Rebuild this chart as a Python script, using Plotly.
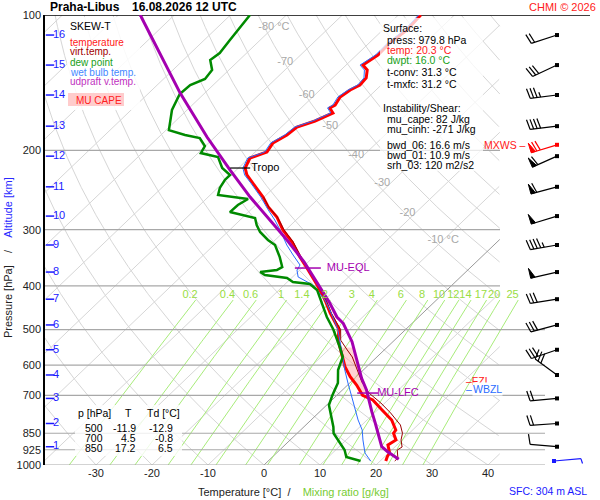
import numpy as np
import plotly.graph_objects as go

FONT = "Liberation Sans, Arial, sans-serif"

# ---------------- sounding (surface -> top) ----------------
temp_p = [979.8, 955.9, 940.6, 902.9, 879.9, 850.0, 836.0, 794.3, 754.4, 717.1, 700.0,
          664.0, 636.4, 604.6, 564.7, 527.5, 500.0, 460.0, 429.9, 398.1, 365.0, 345.1,
          319.5, 300.4, 281.1, 267.1, 253.8, 236.2, 226.7, 218.8, 207.9, 201.6, 192.5,
          184.8, 177.4, 172.0, 168.5, 165.1, 160.9, 158.5, 152.1, 146.8, 143.1, 138.0,
          132.5, 129.2, 122.7, 115.4, 108.0, 100.0]
temp_t = [21.0, 20.4, 20.2, 18.4, 18.9, 17.2, 17.0, 14.4, 10.8, 7.3, 4.6,
          1.6, -1.1, -3.9, -7.0, -10.1, -11.9, -16.5, -19.9, -24.1, -29.1, -32.4,
          -36.6, -40.5, -44.0, -47.4, -50.2, -54.6, -57.2, -58.8, -59.8, -57.9, -58.5,
          -57.5, -57.2, -55.1, -54.1, -53.4, -54.9, -54.5, -55.1, -54.6, -53.8, -54.0,
          -55.3, -57.0, -56.2, -56.3, -55.7, -56.0]

virt_p = [979.8, 964.8, 926.3, 912.0, 879.9, 850.0, 815.0, 766.3, 728.2, 691.8, 654.1,
          615.1, 575.4, 555.2, 528.0, 500.0, 460.0, 430.0, 398.0, 365.0, 345.0, 319.5,
          300.4, 281.1, 267.1, 253.8]
virt_t = [22.6, 22.6, 21.0, 21.3, 19.8, 18.8, 16.9, 12.9, 9.3, 5.3, 2.0,
          -1.1, -4.4, -6.6, -9.6, -11.6, -16.3, -19.7, -23.9, -28.9, -32.2, -36.4,
          -40.3, -43.9, -47.3, -50.1]

dwpt_p = [979.8, 959.8, 926.3, 889.0, 850.0, 823.4, 782.4, 735.7, 700.0, 657.5, 615.1,
          575.4, 546.8, 500.0, 469.0, 436.5, 408.3, 396.0, 392.0, 384.1, 378.3, 372.6,
          368.8, 363.1, 345.1, 324.4, 316.2, 303.5, 292.9, 282.6, 274.1, 264.4, 256.4,
          251.2, 242.3, 232.6, 226.7, 218.8, 206.8, 202.7, 195.5, 187.7, 184.8, 180.2,
          162.6, 149.8, 143.1, 138.7, 132.5, 125.9, 121.5, 113.7, 106.3, 100.0]
dwpt_t = [16.5, 13.2, 11.6, 9.2, 6.5, 5.3, 3.1, 0.4, -0.8, -2.1, -4.5,
          -6.1, -8.5, -12.9, -16.4, -19.9, -23.2, -25.6, -29.0, -30.8, -35.3, -36.7,
          -34.1, -33.7, -36.0, -39.1, -41.3, -44.2, -46.1, -47.7, -53.3, -53.2, -52.5,
          -58.6, -59.6, -60.2, -60.2, -62.9, -65.7, -69.5, -70.1, -72.5, -75.7, -79.5,
          -82.7, -84.3, -84.1, -82.6, -83.0, -85.2, -84.8, -85.4, -86.0, -86.5]

wetb_p = [979.8, 940.6, 879.9, 836.0, 794.3, 743.3, 706.3, 657.5, 615.1, 575.4, 500.0,
          459.3, 429.9, 398.0, 392.0, 382.1, 368.8, 359.4, 341.5, 324.4, 300.4, 285.5,
          270.9, 253.8, 236.2, 226.7, 218.8, 207.9, 201.6, 192.5, 184.8, 177.4, 172.0,
          168.5, 165.1, 160.9, 158.5, 152.1, 146.8, 143.1, 138.0, 132.5, 129.2, 122.7,
          115.4, 108.0, 100.0]
wetb_t = [18.3, 15.8, 13.0, 11.0, 8.4, 5.4, 3.0, -0.3, -3.3, -6.1, -12.1,
          -16.4, -19.9, -24.9, -26.5, -29.0, -30.5, -30.9, -34.0, -37.0, -41.0, -43.8,
          -46.9, -50.6, -55.0, -57.6, -59.2, -60.2, -58.3, -58.9, -57.9, -57.6, -55.5,
          -54.5, -53.8, -55.3, -54.9, -55.5, -55.0, -54.2, -54.4, -55.8, -57.5, -56.6,
          -56.7, -56.1, -56.4]

parcel_p = [971.4, 934.2, 910.5, 850.4, 807.9, 761.3, 717.1, 681.3, 641.7, 604.6, 564.7,
            532.1, 484.3, 469.0, 436.5, 402.3, 382.1, 354.0, 316.2, 289.9, 253.8, 221.1,
            186.7, 149.1, 100.0]
parcel_t = [23.0, 19.6, 17.6, 14.5, 12.1, 9.3, 6.6, 4.3, 1.25, -1.5, -4.6,
            -7.3, -12.3, -14.6, -18.5, -23.2, -26.3, -30.7, -37.9, -43.6, -52.5, -61.1,
            -71.4, -84.4, -106.1]

tropo_p = 218.8
eql_p = 365.0
lfc_p = 692.0
cape_top_p = 548.0

# altitude scale and winds (one barb per km)
alt_km = list(range(1, 17))
alt_p = [910.7, 808.6, 711.3, 630.9, 554.5, 488.4, 428.1, 372.6, 324.4, 279.8,
         240.9, 205.9, 176.6, 150.6, 129.2, 110.8]
wind_dir = [275, 266, 265, 306, 251, 255, 261, 257, 260, 253, 255, 246, 263, 263, 245, 252]
wind_spd = [10, 20, 20, 30, 30, 30, 30, 50, 45, 50, 60, 60, 40, 35, 30, 20]
mxws_p, mxws_dir, mxws_spd = 194.3, 253, 70
sfc_p, sfc_dir, sfc_spd = 979.8, 85, 3

p_ticks = [100, 200, 300, 400, 500, 600, 700, 850, 925, 1000]
t_ticks = [-30, -20, -10, 0, 10, 20, 30, 40]
mix_ratios = [0.2, 0.4, 0.6, 1, 1.4, 2, 3, 4, 6, 8, 10, 12, 14, 17, 20, 25]
iso_lab_t = [-80, -70, -60, -50, -40, -30, -20, -10]
iso_lab_p = [106.3, 127.2, 150.6, 176.6, 204.7, 236.9, 275.3, 316.2]

# ---------------- chart geometry ----------------
PX_DEG = 5.6      # px per deg C
PX_DEC = 450.0    # px per pressure decade
SKEW = 84.0       # isotherm shift (deg C) per decade
X_MIN = -39.107
X_MAX = X_MIN + 545 / PX_DEG
X_GRID_END = X_MIN + 455 / PX_DEG
X_LOW_END = X_MIN + 500 / PX_DEG
BARB_X = X_MIN + 512 / PX_DEG


def skew(t, p):
    return np.asarray(t, float) + SKEW * np.log10(1000.0 / np.asarray(p, float))


def px(x):
    return (x - 45) / 545.0


def py(y):
    return (465 - y) / 450.0


def clean(v):
    return [None if (v_ is None or not np.isfinite(v_)) else float(v_) for v_ in v]


fig = go.Figure()


def add_multi(xs_list, ys_list, color, width, dash=None):
    xs, ys = [], []
    for x, y in zip(xs_list, ys_list):
        xs += clean(x) + [None]
        ys += clean(y) + [None]
    fig.add_trace(go.Scatter(x=xs, y=ys, mode="lines", hoverinfo="skip",
                             line=dict(color=color, width=width, dash=dash)))


# background: isotherms and dry adiabats
pg = np.logspace(3, 2, 400)
iso_x, iso_y = [], []
for t in range(-120, 41, 10):
    if t == 0:
        continue
    x = skew(t, pg)
    x[x > X_GRID_END] = np.nan
    iso_x.append(x)
    iso_y.append(pg)
add_multi(iso_x, iso_y, "#d6d6d6", 1)

ad_x, ad_y = [], []
for th in range(-40, 261, 10):
    t = (th + 273.15) * (pg / 1000.0) ** 0.2857 - 273.15
    x = skew(t, pg)
    x[x > X_GRID_END] = np.nan
    ad_x.append(x)
    ad_y.append(pg)
add_multi(ad_x, ad_y, "#d6d6d6", 1)

x0 = skew(0, pg)
x0[x0 > X_GRID_END] = np.nan
add_multi([x0], [pg], "#808080", 0.8)


# mixing ratio lines
def td_from_w(w, p):
    e = w * p / (622.0 + w)
    a = np.log(e / 6.112)
    return 243.5 * a / (17.67 - a)


pm = np.logspace(3, np.log10(430), 80)
add_multi([skew(td_from_w(w, pm), pm) for w in mix_ratios], [pm] * len(mix_ratios), "#a8ec7a", 1)

# pressure lines
hl_x, hl_y = [], []
for p in p_ticks[1:]:
    hl_x.append([X_MIN, X_GRID_END if p < 450 else X_LOW_END])
    hl_y.append([p, p])
add_multi(hl_x, hl_y, "#a8a8a8", 1.2)
add_multi([[X_MIN, X_MAX]], [[100, 100]], "black", 1.5)

# CAPE area between parcel and environment
lp = np.linspace(np.log10(lfc_p), np.log10(cape_top_p), 30)
xpar = np.interp(-lp, -np.log10(parcel_p), skew(parcel_t, parcel_p))
xenv = np.interp(-lp, -np.log10(temp_p), skew(temp_t, temp_p))
fig.add_trace(go.Scatter(x=np.concatenate([xpar, xenv[::-1]]), y=np.concatenate([10 ** lp, 10 ** lp[::-1]]),
                         fill="toself", fillcolor="rgba(255,160,160,0.45)", mode="lines",
                         line=dict(width=0), hoverinfo="skip"))

# profiles
fig.add_trace(go.Scatter(x=skew(temp_t, temp_p), y=temp_p, mode="lines", line=dict(color="#ff0000", width=3)))
fig.add_trace(go.Scatter(x=skew(virt_t, virt_p), y=virt_p, mode="lines", line=dict(color="#990000", width=1)))
fig.add_trace(go.Scatter(x=skew(wetb_t, wetb_p), y=wetb_p, mode="lines", line=dict(color="#2a6cff", width=1)))
fig.add_trace(go.Scatter(x=skew(dwpt_t, dwpt_p), y=dwpt_p, mode="lines", line=dict(color="#008a00", width=2.5)))
fig.add_trace(go.Scatter(x=skew(parcel_t, parcel_p), y=parcel_p, mode="lines", line=dict(color="#a400b0", width=3)))

# level markers
xt = float(skew(np.interp(-np.log10(tropo_p), -np.log10(temp_p), temp_t), tropo_p))
xe = float(np.interp(-np.log10(eql_p), -np.log10(parcel_p), skew(parcel_t, parcel_p)))
xl = float(np.interp(-np.log10(lfc_p), -np.log10(parcel_p), skew(parcel_t, parcel_p)))
add_multi([[xt - 15 / PX_DEG, xt + 5 / PX_DEG]], [[tropo_p, tropo_p]], "black", 1.2)
add_multi([[xe - 13 / PX_DEG, xe + 13 / PX_DEG]], [[eql_p, eql_p]], "#a400b0", 1.5)
add_multi([[xl - 10 / PX_DEG, xl + 11 / PX_DEG]], [[lfc_p, lfc_p]], "#a400b0", 1.5)
fig.add_trace(go.Scatter(x=[xt + 6 / PX_DEG, xe + 19 / PX_DEG, xl + 10 / PX_DEG], y=[tropo_p, eql_p, lfc_p],
                         mode="text", text=["Tropo", "MU-EQL", "MU-LFC"], textposition="middle right",
                         textfont=dict(color=["black", "#a400b0", "#a400b0"], size=11, family=FONT)))

# grid labels
fig.add_trace(go.Scatter(x=skew(iso_lab_t, iso_lab_p), y=iso_lab_p, mode="text",
                         text=["-80 °C", "-70", "-60", "-50", "-40", "-30", "-20", "-10 °C"],
                         textposition=["middle center"] + ["middle left"] * 6 + ["middle center"],
                         textfont=dict(color="#a8a8a8", size=11, family=FONT)))
fig.add_trace(go.Scatter(x=[float(skew(td_from_w(w, 430), 430)) - 1.0 for w in mix_ratios],
                         y=[419] * len(mix_ratios), mode="text", text=[f"{w:g}" for w in mix_ratios],
                         textposition="middle center", textfont=dict(color="#99dd44", size=11, family=FONT)))

# altitude scale
fig.add_trace(go.Scatter(x=[X_MIN + 5 / PX_DEG] * len(alt_p), y=alt_p, mode="markers",
                         marker=dict(symbol="line-ew", size=6, line=dict(color="#1a1aff", width=1.5))))
fig.add_trace(go.Scatter(x=[X_MIN + 8 / PX_DEG] * len(alt_p), y=alt_p, mode="text",
                         text=[str(k) for k in alt_km], textposition="middle right",
                         textfont=dict(color="#1a1aff", size=11, family=FONT)))


# wind barbs
def barb(x0, p0, wdir, wspd, length=27.0):
    a = np.radians(wdir)
    ux, uy = np.sin(a), -np.cos(a)
    nx, ny = -uy, ux

    def pt(s, h=0.0, lean=0.0):
        dx = ux * (s + lean) + nx * h
        dy = uy * (s + lean) + ny * h
        return x0 + dx / PX_DEG, p0 * 10 ** (dy / PX_DEC)

    segs = [[pt(0), pt(length)]]
    flags = []
    n50, rest = divmod(int(round(wspd / 5.0)) * 5, 50)
    n10, rest = divmod(rest, 10)
    s = length
    for _ in range(n50):
        flags.append([pt(s), pt(s, 10), pt(s - 4.5), pt(s)])
        s -= 6
    for _ in range(n10):
        segs.append([pt(s), pt(s, 10, 2.5)])
        s -= 3.5
    if rest >= 5:
        segs.append([pt(s), pt(s, 5, 1.2)])
    return segs, flags


def draw_barbs(xs0, ps, dirs, spds, color):
    lx, ly, fx, fy = [], [], [], []
    for x0, p0, d, sp in zip(xs0, ps, dirs, spds):
        segs, flags = barb(x0, p0, d, sp)
        for seg in segs:
            lx += [q[0] for q in seg] + [None]
            ly += [q[1] for q in seg] + [None]
        for fl in flags:
            fx += [q[0] for q in fl] + [None]
            fy += [q[1] for q in fl] + [None]
    fig.add_trace(go.Scatter(x=lx, y=ly, mode="lines", line=dict(color=color, width=1.2), hoverinfo="skip"))
    if fx:
        fig.add_trace(go.Scatter(x=fx, y=fy, mode="lines", fill="toself", fillcolor=color,
                                 line=dict(color=color, width=1), hoverinfo="skip"))
    fig.add_trace(go.Scatter(x=list(xs0), y=list(ps), mode="markers",
                             marker=dict(symbol="square", size=4, color=color)))


draw_barbs([BARB_X] * len(alt_p), alt_p, wind_dir, wind_spd, "black")
draw_barbs([BARB_X], [mxws_p], [mxws_dir], [mxws_spd], "#ff0000")
draw_barbs([BARB_X - 3 / PX_DEG], [sfc_p], [sfc_dir], [sfc_spd], "#1a1aff")

# ---------------- boxes and texts ----------------
shapes = [
    dict(type="rect", xref="paper", yref="paper", x0=px(67), x1=px(140), y0=py(110), y1=py(17),
         fillcolor="rgba(255,255,255,0.85)", line=dict(width=0), layer="above"),
    dict(type="rect", xref="paper", yref="paper", x0=px(68), x1=px(124), y0=py(106), y1=py(93),
         fillcolor="#ffcccc", line=dict(width=0), layer="above"),
    dict(type="rect", xref="paper", yref="paper", x0=px(380), x1=px(483), y0=py(171), y1=py(18),
         fillcolor="rgba(255,255,255,0.75)", line=dict(width=0), layer="above"),
    dict(type="rect", xref="paper", yref="paper", x0=px(75), x1=px(182), y0=py(456), y1=py(405),
         fillcolor="rgba(255,255,255,0.8)", line=dict(width=0), layer="above"),
]

annotations = []


def ann(x, y, text, color="black", size=10.5, xanchor="left", **kw):
    annotations.append(dict(x=px(x), y=py(y), xref="paper", yref="paper", text=text, showarrow=False,
                            xanchor=xanchor, yanchor="middle", borderpad=0,
                            font=dict(color=color, size=size, family=FONT), **kw))


ann(49, 7, "<b>Praha-Libus</b>", size=12)
ann(131, 7, "<b>16.08.2026 12 UTC</b>", size=12)
ann(597, 7, "CHMI © 2026", "#ff2020", 11, xanchor="right")

ann(69, 26, "SKEW-T", size=10.5)
ann(69, 42, "temperature", "#ff2020", 10)
ann(69, 52, "virt.temp.", "#a00000", 10)
ann(69, 62, "dew point", "#18a018", 10)
ann(69, 72, "wet bulb temp.", "#4488ff", 10)
ann(69, 82, "udpraft v.temp.", "#c030c0", 10)
ann(75, 100, "MU CAPE", "#ff2020", 10)

ann(382, 28, "Surface:")
ann(386, 40, "press: 979.8 hPa")
ann(386, 50, "temp: 20.3 °C", "#ff2020")
ann(386, 60, "dwpt: 16.0 °C", "#18a018")
ann(386, 72, "t-conv: 31.3 °C")
ann(386, 84, "t-mxfc: 31.2 °C")
ann(382, 108, "Instability/Shear:")
ann(386, 119, "mu_cape: 82 J/kg")
ann(386, 129, "mu_cinh: -271 J/kg")
ann(386, 145, "bwd_06: 16.6 m/s")
ann(386, 155, "bwd_01: 10.9 m/s")
ann(386, 165, "srh_03: 120 m2/s2")

ann(77, 413, "p [hPa]")
ann(128, 413, "T", xanchor="center")
ann(146, 413, "Td [°C]")
for yy, (lev, tt, dd) in zip([428, 438, 448], [(500, "-11.9", "-12.9"), (700, "4.5", "-0.8"), (850, "17.2", "6.5")]):
    ann(84, yy, str(lev))
    ann(137, yy, tt, xanchor="right")
    ann(174, yy, dd, xanchor="right")

ann(483, 145, "MXWS –", "#ff2020", 10.5)
ann(465, 381, "–FZL", "#ff2020", 10.5)
ann(465, 389, "–", "#2a6cff", 10.5)
ann(472, 389, "WBZL", "#2a6cff", 10.5, bgcolor="white")

ann(197, 492, "Temperature [°C]&nbsp;&nbsp;/&nbsp;&nbsp;&nbsp;&nbsp;"
              "<span style='color:#77cc33'>Mixing ratio [g/kg]</span>", "#222", 11)
ann(8, 258, "Pressure [hPa]&nbsp;&nbsp;&nbsp;&nbsp;/&nbsp;&nbsp;&nbsp;&nbsp;"
            "<span style='color:#2a2aff'>Altitude [km]</span>", "#222", 11, xanchor="center", textangle=-90)
ann(588, 491, "SFC: 304 m ASL", "#1a1aff", 10.5, xanchor="right")

fig.update_layout(
    width=600, height=500, margin=dict(l=45, r=10, t=15, b=35),
    paper_bgcolor="white", plot_bgcolor="white", showlegend=False,
    font=dict(family=FONT, size=11, color="#222"),
    xaxis=dict(range=[X_MIN, X_MAX], tickvals=t_ticks, ticktext=[str(t) for t in t_ticks],
               showgrid=False, zeroline=False, showline=False, ticks="", tickfont=dict(size=11)),
    yaxis=dict(type="log", range=[3, 2], tickvals=p_ticks, ticktext=[str(p) for p in p_ticks],
               showgrid=False, zeroline=False, showline=True, linecolor="black", linewidth=1.5,
               ticks="", tickfont=dict(size=11)),
    shapes=shapes, annotations=annotations,
)

# page body margin off, so the 600x500 figure fills the window exactly
fig.write_html("out.html", config={"displayModeBar": False},
               post_script="document.body.style.margin='0';")
